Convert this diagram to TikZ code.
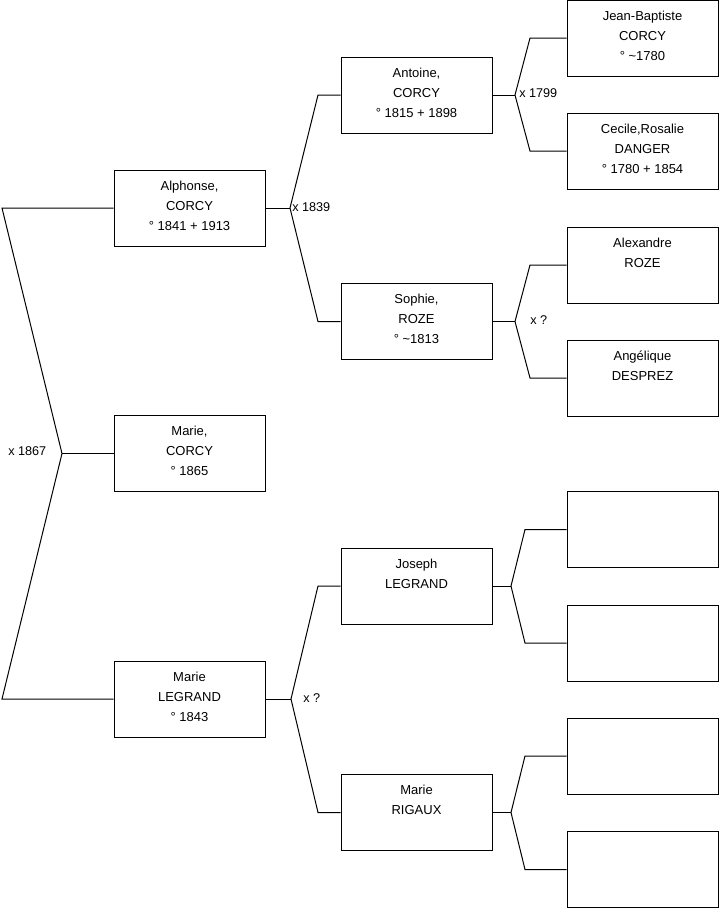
\documentclass[tikz,border=0pt]{standalone}
\usepackage{fontspec}
\setmainfont{Liberation Sans}
\begin{document}
\begin{tikzpicture}[x=0.75pt,y=-0.75pt,
  person/.style={draw=black, line width=0.75pt, rectangle, minimum width=113.25pt, minimum height=57pt, inner sep=0pt, fill=white},
  ptext/.style={anchor=north, align=center, inner sep=0pt, font=\fontsize{9.75}{15}\selectfont},
  mlabel/.style={inner sep=0pt, font=\fontsize{9.5}{11}\selectfont},
  link/.style={draw=black, line width=0.75pt, line join=miter}]
\useasboundingbox (0,0) rectangle (719,908);
\fill[white] (0,0) rectangle (719,908);

% generation 1
\node[person] (alphonse) at (189.5,208) {};
\node[person] (mariec) at (189.5,453.5) {};
\node[person] (mariel) at (189.5,699) {};
% generation 2
\node[person] (antoine) at (416.5,95) {};
\node[person] (sophie) at (416.5,321.5) {};
\node[person] (joseph) at (416.5,586) {};
\node[person] (rigaux) at (416.5,812.5) {};
% generation 3
\node[person] (jb) at (642.5,38) {};
\node[person] (cecile) at (642.5,151) {};
\node[person] (alex) at (642.5,265) {};
\node[person] (angel) at (642.5,378) {};
\node[person] (e1) at (642.5,529.5) {};
\node[person] (e2) at (642.5,643) {};
\node[person] (e3) at (642.5,756) {};
\node[person] (e4) at (642.5,869.5) {};

% texts
\node[ptext] (alphonseT) at ([yshift=-8.3pt]alphonse.north) {Alphonse,\\CORCY\\° 1841 + 1913};
\node[ptext] (mariecT) at ([yshift=-8.3pt]mariec.north) {Marie,\\CORCY\\° 1865};
\node[ptext] (marielT) at ([yshift=-8.3pt]mariel.north) {Marie\\LEGRAND\\° 1843};
\node[ptext] (antoineT) at ([yshift=-8.3pt]antoine.north) {Antoine,\\CORCY\\° 1815 + 1898};
\node[ptext] (sophieT) at ([yshift=-8.3pt]sophie.north) {Sophie,\\ROZE\\° \textasciitilde1813};
\node[ptext] (josephT) at ([yshift=-8.3pt]joseph.north) {Joseph\\LEGRAND};
\node[ptext] (rigauxT) at ([yshift=-8.3pt]rigaux.north) {Marie\\RIGAUX};
\node[ptext] (jbT) at ([yshift=-8.3pt]jb.north) {Jean-Baptiste\\CORCY\\° \textasciitilde1780};
\node[ptext] (cecileT) at ([yshift=-8.3pt]cecile.north) {Cecile,Rosalie\\DANGER\\° 1780 + 1854};
\node[ptext] (alexT) at ([yshift=-8.3pt]alex.north) {Alexandre\\ROZE};
\node[ptext] (angelT) at ([yshift=-8.3pt]angel.north) {Angélique\\DESPREZ};

% fork points and corners
\coordinate (r0) at (62,453.5);
\coordinate (r1) at (2,208);
\coordinate (r2) at (2,699);
\coordinate (f1) at (290,208);
\coordinate (f1a) at (318,95);
\coordinate (f1b) at (318,321.5);
\coordinate (f2) at (515,95);
\coordinate (f2a) at (530,38);
\coordinate (f2b) at (530,151);
\coordinate (f3) at (515,321.5);
\coordinate (f3a) at (530,265);
\coordinate (f3b) at (530,378);
\coordinate (f4) at (291,699);
\coordinate (f4a) at (318,586);
\coordinate (f4b) at (318,812.5);
\coordinate (f5) at (511,586);
\coordinate (f5a) at (525,529.5);
\coordinate (f5b) at (525,643);
\coordinate (f6) at (511,812.5);
\coordinate (f6a) at (525,756);
\coordinate (f6b) at (525,869.5);

% connectors
\draw[link] (alphonse.west) -- (r1) -- (r0) -- (r2) -- (mariel.west);
\draw[link] (r0) -- (mariec.west);
\draw[link] (alphonse.east) -- (f1);
\draw[link] (antoine.west) -- (f1a) -- (f1) -- (f1b) -- (sophie.west);
\draw[link] (antoine.east) -- (f2);
\draw[link] (jb.west) -- (f2a) -- (f2) -- (f2b) -- (cecile.west);
\draw[link] (sophie.east) -- (f3);
\draw[link] (alex.west) -- (f3a) -- (f3) -- (f3b) -- (angel.west);
\draw[link] (mariel.east) -- (f4);
\draw[link] (joseph.west) -- (f4a) -- (f4) -- (f4b) -- (rigaux.west);
\draw[link] (joseph.east) -- (f5);
\draw[link] (e1.west) -- (f5a) -- (f5) -- (f5b) -- (e2.west);
\draw[link] (rigaux.east) -- (f6);
\draw[link] (e3.west) -- (f6a) -- (f6) -- (f6b) -- (e4.west);

% marriage labels
\node[mlabel, anchor=west] (m1867) at (8,451) {x 1867};
\node[mlabel, anchor=west] (m1839) at (292,207) {x 1839};
\node[mlabel, anchor=west] (m1799) at (519,93) {x 1799};
\node[mlabel, anchor=west] (m3) at (530,320) {x ?};
\node[mlabel, anchor=west] (m4) at (303,698) {x ?};
\end{tikzpicture}
\end{document}
